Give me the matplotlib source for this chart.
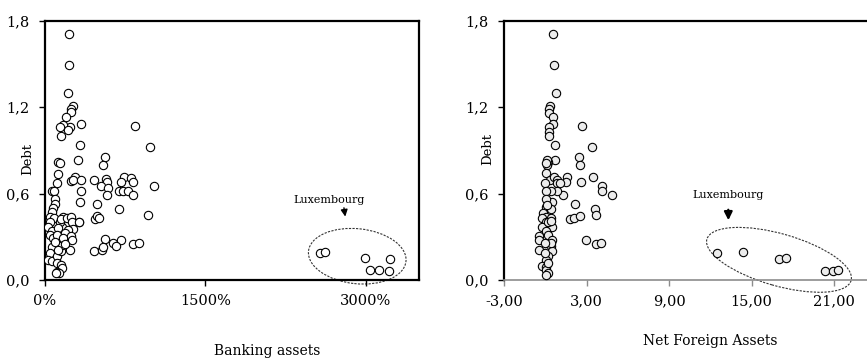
import matplotlib
matplotlib.use("Agg")
import matplotlib.pyplot as plt
from matplotlib.patches import Ellipse
from matplotlib.transforms import ScaledTranslation

plt.rcParams['font.family'] = ['DejaVu Serif']

# Banking assets (% of GDP) against public debt, one point per country-year
bank_assets = [225, 228, 216, 262, 244, 240, 197, 337, 234, 172, 140, 219, 150, 844, 981,
               328, 309, 562, 541, 125, 140, 125, 116, 281, 244, 266, 341, 334, 328, 462,
               569, 578, 522, 594, 584, 741, 803, 712, 819, 691, 734, 778, 828, 1019, 484,
               691, 469, 487, 509, 962, 319, 559, 709, 641, 666, 819, 881, 459, 531, 547, 231,
               63, 84, 94, 94, 78, 63, 47, 84, 47, 31, 69, 47, 78, 63, 47, 31, 63, 109,
               116, 150, 156, 116, 134, 103, 150, 156, 156, 172, 156, 141, 166, 150, 125,
               109, 94, 125, 203, 244, 250, 266, 219, 188, 247, 250, 172, 188, 319,
               2569, 2619, 2991, 3225, 3038, 3122, 3219]
bank_debt = [1.71, 1.49, 1.30, 1.21, 1.185, 1.165, 1.13, 1.083, 1.065, 1.074, 1.065, 1.04, 1.0, 1.069, 0.924,
             0.9375, 0.835, 0.854, 0.799, 0.82, 0.81, 0.734, 0.676, 0.717, 0.6875, 0.694, 0.694, 0.618, 0.542, 0.694,
             0.701, 0.68, 0.65, 0.641, 0.592, 0.713, 0.71, 0.68, 0.683, 0.62, 0.62, 0.616, 0.59, 0.65, 0.528,
             0.49, 0.426, 0.442, 0.433, 0.451, 0.405, 0.282, 0.275, 0.255, 0.236, 0.25, 0.255, 0.201, 0.208, 0.227, 0.208,
             0.62, 0.62, 0.565, 0.53, 0.50, 0.474, 0.44, 0.428, 0.40, 0.37, 0.34, 0.31, 0.29, 0.23, 0.185, 0.139, 0.13, 0.167,
             0.116, 0.104, 0.081, 0.058, 0.046, 0.049, 0.20, 0.24, 0.29, 0.336, 0.37, 0.40, 0.44, 0.42, 0.36,
             0.31, 0.266, 0.21, 0.428, 0.435, 0.405, 0.356, 0.347, 0.324, 0.306, 0.278, 0.29, 0.25, 0.405,
             0.185, 0.194, 0.155, 0.148, 0.067, 0.067, 0.065]

# Net foreign assets (ratio to GDP) against public debt
nfa = [0.54, 0.61, 0.78, 0.35, 0.27, 0.30, 0.59, 0.56, 0.24, 0.30, 0.30, 0.69, 0.74, 0.20, 0.10,
       2.70, 3.43, 2.45, 2.50, 3.47, 2.58, 1.56, 1.53, 4.15, 4.13, 4.83, 1.27, 2.16, 3.60, 3.67,
       1.80, 2.11, 2.50, 2.99, 3.67, 4.03,
       0.10, 0.05, 0.05, 0.35, -0.02, 0.64, 0.88, 0.83, 1.07, 0.83, 0.40, 0.02, 0.47, 0.05, 0.05,
       -0.14, 0.05, 0.42, -0.26, 0.47, 0.05, -0.26, 0.05, -0.43, -0.43, 0.22, 0.47, 0.05, 0.40,
       -0.43, 0.47, 0.22, 0.05, -0.21, 0.05, 0.05, 0.22, 0.05, 0.22, -0.02, 0.40, -0.02, 0.22,
       0.40, 0.15, 0.40,
       12.51, 14.36, 17.02, 17.49, 20.37, 20.90, 21.31]
nfa_debt = [1.708, 1.49, 1.30, 1.21, 1.185, 1.16, 1.134, 1.083, 1.065, 1.03, 1.0, 0.9375, 0.835, 0.82, 0.80,
            1.067, 0.924, 0.854, 0.799, 0.715, 0.68, 0.715, 0.683, 0.653, 0.618, 0.59, 0.59, 0.528, 0.493, 0.451,
            0.424, 0.433, 0.444, 0.278, 0.25, 0.255,
            0.833, 0.81, 0.74, 0.694, 0.676, 0.717, 0.694, 0.676, 0.676, 0.62, 0.618, 0.62, 0.544, 0.56, 0.51,
            0.463, 0.44, 0.428, 0.428, 0.37, 0.40, 0.37, 0.34, 0.306, 0.278, 0.31, 0.28, 0.23, 0.236,
            0.208, 0.20, 0.167, 0.139, 0.097, 0.093, 0.07, 0.051, 0.035, 0.116, 0.185, 0.26, 0.26, 0.405,
            0.49, 0.52, 0.41,
            0.19, 0.197, 0.146, 0.155, 0.065, 0.065, 0.067]

debt_ticks = [0.0, 0.6, 1.2, 1.8]
debt_labels = ["0,0", "0,6", "1,2", "1,8"]
bank_ticks = [0, 1500, 3000]
bank_labels = ["0%", "1500%", "3000%"]
nfa_ticks = [-3, 3, 9, 15, 21]
nfa_labels = ["-3,00", "3,00", "9,00", "15,00", "21,00"]


def style_axes(ax, bottom_color):
    """Puts the frame and the ticks on one panel."""
    for side in ["left", "top", "right"]:
        ax.spines[side].set_color("black")
        ax.spines[side].set_linewidth(1.6)
    ax.spines["bottom"].set_color(bottom_color)
    ax.spines["bottom"].set_linewidth(1.6 if bottom_color == "black" else 1.2)
    ax.tick_params(axis="y", direction="out", length=4, width=1, pad=7, labelsize=10.5)
    ax.tick_params(axis="x", direction="out", length=4, width=1, pad=6, labelsize=10.5,
                   color=bottom_color)
    ax.set_ylim(0, 1.8)
    ax.set_yticks(debt_ticks)
    ax.set_yticklabels(debt_labels)


def dashed_ellipse(ax, center, width_px, height_px, angle):
    """Draws a dotted ellipse sized in pixels around a data point."""
    fig = ax.figure
    trans = fig.dpi_scale_trans + ScaledTranslation(center[0], center[1], ax.transData)
    ell = Ellipse((0, 0), width_px / fig.dpi, height_px / fig.dpi, angle=angle,
                  transform=trans, fill=False, edgecolor="#333333", linewidth=0.8,
                  linestyle=(0, (2, 1.2)), clip_on=False, zorder=1)
    ax.add_patch(ell)


fig = plt.figure(figsize=(8.67, 3.6), dpi=100)

# left panel: banking assets
ax1 = fig.add_axes([45 / 867, 80 / 360, 374 / 867, 259.3 / 360])
ax1.scatter(bank_assets, bank_debt, s=36, facecolor="white", edgecolor="black",
            linewidth=0.8, zorder=3)
ax1.set_xlim(0, 3500)
ax1.set_xticks(bank_ticks)
ax1.set_xticklabels(bank_labels)
style_axes(ax1, "black")
dashed_ellipse(ax1, (2922, 0.165), 98, 55, -6)
ax1.annotate("Luxembourg", xy=(2810, 0.44), xytext=(2660, 0.555),
             ha="center", va="center", fontsize=8,
             arrowprops=dict(arrowstyle="-|>,head_length=0.5,head_width=0.25",
                             color="black", lw=1, shrinkA=0, shrinkB=0,
                             relpos=(0.7, 0.0)))
fig.text(28 / 867, 1 - 159 / 360, "Debt", rotation=90, ha="center", va="center", fontsize=9.5)
fig.text(267 / 867, 1 - 351 / 360, "Banking assets", ha="center", va="center", fontsize=10)

# right panel: net foreign assets
ax2 = fig.add_axes([504 / 867, 80 / 360, 374 / 867, 259.3 / 360])
ax2.scatter(nfa, nfa_debt, s=36, facecolor="#ececec", edgecolor="black",
            linewidth=0.8, zorder=3)
ax2.set_xlim(-3, 24.2)
ax2.set_xticks(nfa_ticks)
ax2.set_xticklabels(nfa_labels)
style_axes(ax2, "#8c8c8c")
dashed_ellipse(ax2, (17.0, 0.14), 150, 52, -16)
ax2.annotate("Luxembourg", xy=(13.32, 0.415), xytext=(13.3, 0.59),
             ha="center", va="center", fontsize=8,
             arrowprops=dict(arrowstyle="-|>,head_length=0.6,head_width=0.3",
                             color="black", lw=1.6, shrinkA=5, shrinkB=0))
fig.text(488 / 867, 1 - 149 / 360, "Debt", rotation=90, ha="center", va="center", fontsize=9.5)
fig.text(710 / 867, 1 - 341 / 360, "Net Foreign Assets", ha="center", va="center", fontsize=10)

fig.savefig("out.png", dpi=100)
plt.close(fig)
